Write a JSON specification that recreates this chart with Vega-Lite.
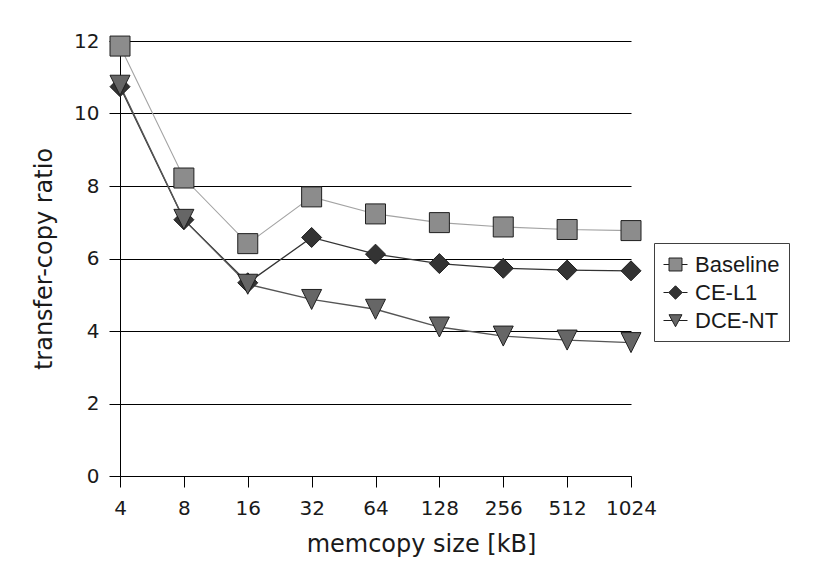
{
  "$schema": "https://vega.github.io/schema/vega-lite/v6.json",
  "width": 511,
  "height": 435,
  "autosize": {"type": "none"},
  "padding": {"left": 120, "top": 41, "right": 185, "bottom": 111},
  "background": "white",
  "config": {
    "view": {"stroke": null},
    "font": "DejaVu Sans"
  },
  "data": {
    "values": [
      {"size": 4, "series": "Baseline", "ratio": 11.86},
      {"size": 8, "series": "Baseline", "ratio": 8.22},
      {"size": 16, "series": "Baseline", "ratio": 6.41},
      {"size": 32, "series": "Baseline", "ratio": 7.70},
      {"size": 64, "series": "Baseline", "ratio": 7.23},
      {"size": 128, "series": "Baseline", "ratio": 6.99},
      {"size": 256, "series": "Baseline", "ratio": 6.87},
      {"size": 512, "series": "Baseline", "ratio": 6.80},
      {"size": 1024, "series": "Baseline", "ratio": 6.77},
      {"size": 4, "series": "CE-L1", "ratio": 10.74},
      {"size": 8, "series": "CE-L1", "ratio": 7.07},
      {"size": 16, "series": "CE-L1", "ratio": 5.33},
      {"size": 32, "series": "CE-L1", "ratio": 6.58},
      {"size": 64, "series": "CE-L1", "ratio": 6.12},
      {"size": 128, "series": "CE-L1", "ratio": 5.86},
      {"size": 256, "series": "CE-L1", "ratio": 5.73},
      {"size": 512, "series": "CE-L1", "ratio": 5.68},
      {"size": 1024, "series": "CE-L1", "ratio": 5.66},
      {"size": 4, "series": "DCE-NT", "ratio": 10.78},
      {"size": 8, "series": "DCE-NT", "ratio": 7.08},
      {"size": 16, "series": "DCE-NT", "ratio": 5.29},
      {"size": 32, "series": "DCE-NT", "ratio": 4.87},
      {"size": 64, "series": "DCE-NT", "ratio": 4.60},
      {"size": 128, "series": "DCE-NT", "ratio": 4.11},
      {"size": 256, "series": "DCE-NT", "ratio": 3.86},
      {"size": 512, "series": "DCE-NT", "ratio": 3.75},
      {"size": 1024, "series": "DCE-NT", "ratio": 3.68}
    ]
  },
  "encoding": {
    "x": {
      "field": "size",
      "type": "ordinal",
      "scale": {"type": "point", "padding": 0},
      "axis": {
        "title": "memcopy size [kB]",
        "titleFont": "DejaVu Sans",
        "titleFontSize": 24,
        "titleFontWeight": "normal",
        "titleColor": "#1a1a1a",
        "titlePadding": 14,
        "titleX": 301,
        "labelFont": "DejaVu Sans",
        "labelFontSize": 20,
        "labelColor": "#1a1a1a",
        "labelPadding": 11,
        "labelAngle": 0,
        "tickSize": 11,
        "tickColor": "#000000",
        "domainColor": "#000000",
        "grid": false
      }
    },
    "y": {
      "field": "ratio",
      "type": "quantitative",
      "scale": {"domain": [0, 12], "nice": false},
      "axis": {
        "title": "transfer-copy ratio",
        "values": [0, 2, 4, 6, 8, 10, 12],
        "titleFont": "DejaVu Sans",
        "titleFontSize": 24,
        "titleFontWeight": "normal",
        "titleColor": "#1a1a1a",
        "titlePadding": 17,
        "labelFont": "DejaVu Sans",
        "labelFontSize": 20,
        "labelColor": "#1a1a1a",
        "labelPadding": 10,
        "tickSize": 11,
        "tickColor": "#000000",
        "domainColor": "#000000",
        "grid": true,
        "gridColor": "#000000",
        "gridOpacity": 1,
        "gridWidth": 1
      }
    }
  },
  "layer": [
    {
      "transform": [{"filter": "datum.series === 'Baseline'"}],
      "mark": {"type": "line", "strokeWidth": 1.1, "stroke": "#a3a3a3"}
    },
    {
      "transform": [{"filter": "datum.series === 'CE-L1'"}],
      "mark": {"type": "line", "strokeWidth": 1.3, "stroke": "#333333"}
    },
    {
      "transform": [{"filter": "datum.series === 'DCE-NT'"}],
      "mark": {"type": "line", "strokeWidth": 1.3, "stroke": "#555555"}
    },
    {
      "mark": {"type": "point", "filled": true, "size": 400, "opacity": 1, "stroke": "#1f1f1f", "strokeWidth": 1},
      "encoding": {
        "shape": {
          "field": "series",
          "type": "nominal",
          "scale": {"domain": ["Baseline", "CE-L1", "DCE-NT"], "range": ["square", "diamond", "M-1,-1L1,-1L0,1Z"]},
          "legend": null
        },
        "fill": {
          "field": "series",
          "type": "nominal",
          "scale": {"domain": ["Baseline", "CE-L1", "DCE-NT"], "range": ["#8c8c8c", "#333333", "#666666"]},
          "legend": null
        }
      }
    },
    {
      "mark": {"type": "point", "filled": true, "size": 0, "opacity": 1, "stroke": "#1f1f1f", "strokeWidth": 1},
      "encoding": {
        "shape": {
          "field": "series",
          "type": "nominal",
          "scale": {
            "domain": ["Baseline", "CE-L1", "DCE-NT"],
            "range": [
              "M-1,0H-0.54M0.54,0H1M-0.54,-0.54H0.54V0.54H-0.54Z",
              "M-1,0H-0.56M0.56,0H1M-0.56,0L0,-0.56L0.56,0L0,0.56Z",
              "M-1,0H-0.28M0.28,0H1M-0.54,-0.48L0.54,-0.48L0,0.52Z"
            ]
          },
          "legend": {
            "title": null,
            "orient": "none",
            "legendX": 534,
            "legendY": 202,
            "padding": 9,
            "strokeColor": "#404040",
            "fillColor": "white",
            "labelFont": "Liberation Sans",
            "labelFontSize": 22,
            "labelColor": "#1a1a1a",
            "labelOffset": 7,
            "rowPadding": 4,
            "symbolSize": 576,
            "symbolStrokeWidth": 1
          }
        },
        "fill": {
          "field": "series",
          "type": "nominal",
          "scale": {"domain": ["Baseline", "CE-L1", "DCE-NT"], "range": ["#8c8c8c", "#333333", "#666666"]},
          "legend": {
            "title": null,
            "orient": "none",
            "legendX": 534,
            "legendY": 202,
            "padding": 9,
            "strokeColor": "#404040",
            "fillColor": "white",
            "labelFont": "Liberation Sans",
            "labelFontSize": 22,
            "labelColor": "#1a1a1a",
            "labelOffset": 7,
            "rowPadding": 4,
            "symbolSize": 576,
            "symbolStrokeWidth": 1
          }
        }
      }
    }
  ],
  "resolve": {"scale": {"shape": "independent", "fill": "independent"}}
}
